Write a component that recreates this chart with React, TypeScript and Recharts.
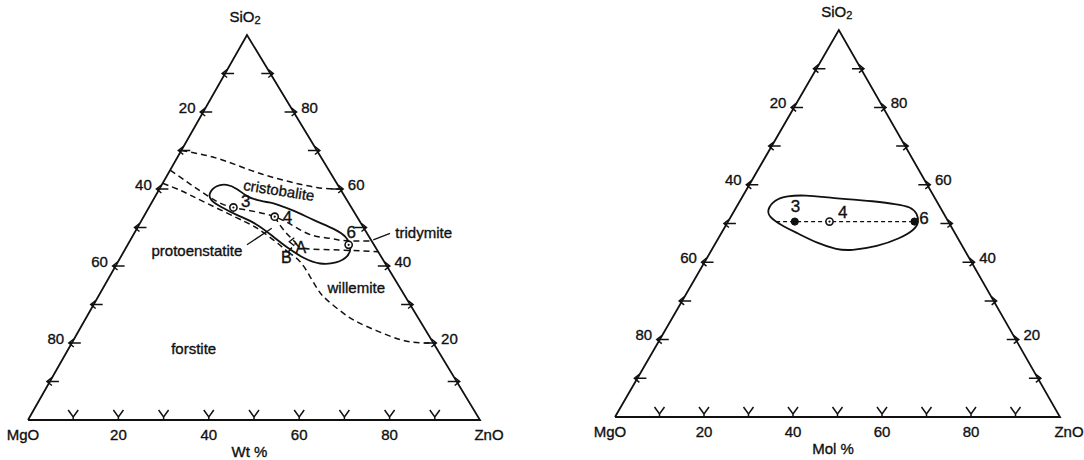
import React from "react";
import { ScatterChart, Scatter, XAxis, YAxis } from "recharts";

// compositions are [SiO2, ZnO] in %, MgO is whatever is left
type Comp = [number, number];

const FONT = '"Liberation Sans", Arial, sans-serif';
const INK = "#111";

// ---- Wt % diagram ----
const wtTwoLiquid: Comp[] = [[70, 0], [68, 8.8], [64.9, 17.7], [62.3, 26.3], [60.4, 34.6], [60, 40]];
const wtCristobalite: Comp[] = [[64.9, 0], [58.4, 11.2], [55.2, 18.7], [52.8, 29], [48.5, 38.2], [47.2, 43.9], [46.6, 47.2], [46.5, 53.5]];
const wtForsterite: Comp[] = [[61.5, 0], [59.7, 4.7], [57.6, 9.4], [52.5, 20.8], [49.9, 26.4], [46.8, 31.6], [43.6, 36.4]];
const wtToA: Comp[] = [[52.8, 29], [49.4, 32.6], [46, 37]];
const wtBA: Comp[] = [[43.6, 36.4], [46, 37]];
const wtTridymite: Comp[] = [[46, 37], [44.6, 39.3], [44.2, 46.1], [43.7, 56.3]];
const wtWillemite: Comp[] = [[43.6, 36.4], [41.1, 40.3], [37.2, 44.4], [33.8, 47.8], [31.2, 51], [27.7, 56.4], [25.1, 61.3], [22.1, 68.7], [20.3, 74.7], [20, 80]];
const wtGlassRegion: Comp[] = [
  [56.3, 27], [54.5, 32.3], [51.9, 38], [49.4, 44.4], [47.6, 47.4], [45, 49.8], [42.4, 50.4], [40.7, 48.6],
  [40.3, 45.1], [42, 40.6], [44.2, 36.6], [47.6, 31.2], [51.1, 25.8], [53.2, 20.4], [55.4, 15.7], [57.1, 12.6],
  [58.9, 11.4], [61, 12.1], [61.3, 14.3], [60.2, 17], [58, 20.3], [57.1, 22.9],
];
const wtSamples: Comp[] = [[55.2, 18.7], [52.8, 29], [45.5, 48.9]];
const wtSampleNames = ["3", "4", "6"];
const wtSampleLabelAt: Comp[] = [[56.7, 20.7], [52.6, 31.9], [48.7, 47.9]];
const wtFieldNames = ["cristobalite", "tridymite", "protoenstatite", "willemite", "forstite", "A", "B"];
const wtFieldAt: Comp[] = [[59.7, 26.6], [48.6, 64], [43.9, 16.1], [34.3, 56], [18.7, 27.6], [44.9, 38.6], [42.2, 36.7]];
const wtLeaders: Comp[][] = [[[46.8, 53.7], [48.5, 56.6]], [[45.5, 26.4], [49.8, 29.8]]];
const wtArrowAtA: Comp[] = [[46.3, 35.6]];

// ---- Mol % diagram ----
const molGlassRegion: Comp[] = [
  [55.9, 28.6], [55, 35.8], [54.3, 39.1], [52.6, 41.5], [50.1, 43.1], [48.3, 42.9], [46.2, 40.9], [44, 36.8],
  [43, 31.3], [43.2, 28.2], [44.9, 22.9], [47.5, 17.1], [49.6, 12.3], [51.8, 8.5], [53.5, 7.3], [56.1, 7.5],
  [57.1, 10], [57.4, 13.6], [56.5, 20.8],
];
const molTieLine: Comp[] = [[50.5, 10.8], [50.5, 41.9]];
const molSolidSamples: Comp[] = [[50.5, 15], [50.5, 41.9]];
const molOpenSamples: Comp[] = [[50.5, 22.8]];
const molSampleNames = ["3", "4", "6"];
const molSampleLabelAt: Comp[] = [[54.4, 13.2], [52.8, 24.6], [51.4, 43.6]];

// ---- axes ----
const sideTicks = [10, 20, 30, 40, 50, 60, 70, 80, 90];
const tickLabels = [20, 40, 60, 80];

const toXY = (k: number) => (c: Comp, label?: string) => ({ x: c[1] + k * c[0], y: c[0], label });

const none = () => <g />;

const textShape = (dx: number, dy: number, size = 15, anchor = "middle", rotate = 0) => (p: any) => (
  <text
    x={p.cx + dx}
    y={p.cy + dy}
    textAnchor={anchor}
    dominantBaseline="central"
    fontSize={size}
    fontFamily={FONT}
    fill={INK}
    stroke={INK}
    strokeWidth={0.35}
    transform={rotate ? `rotate(${rotate} ${p.cx + dx} ${p.cy + dy})` : undefined}
  >
    {p.payload.label}
  </text>
);

const leftTick = (p: any) => (
  <path d={`M${p.cx + 9},${p.cy} L${p.cx - 3},${p.cy} M${p.cx + 2},${p.cy - 4} L${p.cx - 3},${p.cy} L${p.cx + 2},${p.cy + 4}`} stroke={INK} strokeWidth={1.5} fill="none" />
);
const rightTick = (p: any) => (
  <path d={`M${p.cx - 9},${p.cy} L${p.cx + 3},${p.cy} M${p.cx - 2},${p.cy - 4} L${p.cx + 3},${p.cy} L${p.cx - 2},${p.cy + 4}`} stroke={INK} strokeWidth={1.5} fill="none" />
);
const baseTick = (p: any) => (
  <path d={`M${p.cx - 5},${p.cy - 10} L${p.cx},${p.cy - 3} L${p.cx + 5},${p.cy - 10} M${p.cx},${p.cy - 3} L${p.cx},${p.cy}`} stroke={INK} strokeWidth={1.5} fill="none" />
);
const arrowLeft = (p: any) => (
  <path d={`M${p.cx + 4},${p.cy - 4} L${p.cx - 1},${p.cy} L${p.cx + 4},${p.cy + 4}`} stroke={INK} strokeWidth={1.4} fill="none" />
);
const openMark = (p: any) => (
  <g>
    <circle cx={p.cx} cy={p.cy} r={3.6} fill="#fff" stroke={INK} strokeWidth={1.6} />
    <circle cx={p.cx} cy={p.cy} r={1.1} fill={INK} />
  </g>
);
const solidMark = (p: any) => <circle cx={p.cx} cy={p.cy} r={3.6} fill={INK} stroke={INK} strokeWidth={1} />;

const apexLabel = (p: any) => (
  <text x={p.cx - 2} y={p.cy - 19} textAnchor="middle" dominantBaseline="central" fontSize={15} fontFamily={FONT} fill={INK} stroke={INK} strokeWidth={0.35}>
    SiO<tspan dy={4} fontSize={11}>2</tspan>
  </text>
);

function curve(key: string, pts: any[], dash?: string, joint: any = "natural", width = 1.5) {
  return (
    <Scatter
      key={key}
      data={pts}
      line={{ stroke: INK, strokeWidth: width, strokeDasharray: dash }}
      lineType="joint"
      lineJointType={joint}
      shape={none}
      isAnimationActive={false}
    />
  );
}

function frame(k: number, unit: string) {
  const p = toXY(k);
  return [
    curve("tri", [p([0, 0]), p([0, 100]), p([100, 0]), p([0, 0])], undefined, "linear", 1.8),
    <Scatter key="lt" data={sideTicks.map((s) => p([s, 0]))} shape={leftTick} isAnimationActive={false} />,
    <Scatter key="rt" data={sideTicks.map((s) => p([s, 100 - s]))} shape={rightTick} isAnimationActive={false} />,
    <Scatter key="bt" data={sideTicks.map((z) => p([0, z]))} shape={baseTick} isAnimationActive={false} />,
    <Scatter key="ll" data={tickLabels.map((m) => p([100 - m, 0], String(m)))} shape={textShape(-16, -5)} isAnimationActive={false} />,
    <Scatter key="rl" data={tickLabels.map((v) => p([v, 100 - v], String(v)))} shape={textShape(16, -5)} isAnimationActive={false} />,
    <Scatter key="bl" data={tickLabels.map((v) => p([0, v], String(v)))} shape={textShape(0, 14)} isAnimationActive={false} />,
    <Scatter key="mgo" data={[p([0, 0], "MgO")]} shape={textShape(-5, 14)} isAnimationActive={false} />,
    <Scatter key="zno" data={[p([0, 100], "ZnO")]} shape={textShape(9, 14)} isAnimationActive={false} />,
    <Scatter key="unit" data={[p([0, 49], unit)]} shape={textShape(0, 31)} isAnimationActive={false} />,
    <Scatter key="apex" data={[p([100, 0])]} shape={apexLabel} isAnimationActive={false} />,
  ];
}

const axes = [
  <XAxis key="x" type="number" dataKey="x" domain={[0, 100]} hide />,
  <YAxis key="y" type="number" dataKey="y" domain={[0, 100]} hide />,
];

function WtDiagram() {
  const k = 0.4845;
  const p = toXY(k);
  const dash = "6 4";
  return (
    <ScatterChart width={542} height={460} margin={{ top: 35, right: 62, bottom: 40, left: 28 }}>
      {axes}
      {frame(k, "Wt %")}
      {curve("a", wtTwoLiquid.map((c) => p(c)), dash)}
      {curve("b", wtCristobalite.map((c) => p(c)), dash)}
      {curve("c", wtForsterite.map((c) => p(c)), dash)}
      {curve("e", wtToA.map((c) => p(c)), dash)}
      {curve("ba", wtBA.map((c) => p(c)), dash, "linear")}
      {curve("f", wtTridymite.map((c) => p(c)), dash)}
      {curve("d", wtWillemite.map((c) => p(c)), dash)}
      {curve("glass", [...wtGlassRegion, wtGlassRegion[0]].map((c) => p(c)), undefined, "basisClosed", 1.8)}
      {wtLeaders.map((l, i) => curve(`lead${i}`, l.map((c) => p(c)), undefined, "linear", 1.3))}
      <Scatter data={wtArrowAtA.map((c) => p(c))} shape={arrowLeft} isAnimationActive={false} />
      <Scatter data={wtSamples.map((c) => p(c))} shape={openMark} isAnimationActive={false} />
      <Scatter data={wtSampleLabelAt.map((c, i) => p(c, wtSampleNames[i]))} shape={textShape(0, 0, 17)} isAnimationActive={false} />
      <Scatter data={wtFieldAt.slice(0, 1).map((c, i) => p(c, wtFieldNames[i]))} shape={textShape(0, 0, 15, "middle", 9)} isAnimationActive={false} />
      <Scatter data={wtFieldAt.slice(1, 5).map((c, i) => p(c, wtFieldNames[i + 1]))} shape={textShape(0, 0, 15)} isAnimationActive={false} />
      <Scatter data={wtFieldAt.slice(5).map((c, i) => p(c, wtFieldNames[i + 5]))} shape={textShape(0, 0, 16)} isAnimationActive={false} />
    </ScatterChart>
  );
}

function MolDiagram() {
  const k = 0.503;
  const p = toXY(k);
  return (
    <ScatterChart width={542} height={460} margin={{ top: 30, right: 24, bottom: 43, left: 73 }}>
      {axes}
      {frame(k, "Mol  %")}
      {curve("glass", [...molGlassRegion, molGlassRegion[0]].map((c) => p(c)), undefined, "basisClosed", 1.8)}
      {curve("tie", molTieLine.map((c) => p(c)), "4 3", "linear", 1.3)}
      <Scatter data={molSolidSamples.map((c) => p(c))} shape={solidMark} isAnimationActive={false} />
      <Scatter data={molOpenSamples.map((c) => p(c))} shape={openMark} isAnimationActive={false} />
      <Scatter data={molSampleLabelAt.map((c, i) => p(c, molSampleNames[i]))} shape={textShape(0, 0, 17)} isAnimationActive={false} />
    </ScatterChart>
  );
}

export default function App() {
  return (
    <div style={{ position: "absolute", left: 0, top: 0, width: 1084, height: 460, background: "#fff", display: "flex" }}>
      <WtDiagram />
      <MolDiagram />
    </div>
  );
}
